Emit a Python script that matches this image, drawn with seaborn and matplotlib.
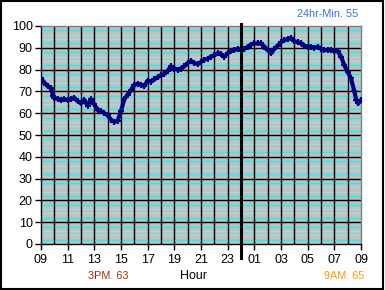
import matplotlib
matplotlib.use("Agg")
import matplotlib.pyplot as plt
import seaborn as sns
import pandas as pd
from matplotlib.patches import Rectangle

# ---- data ----
hours = [0.00, 0.25, 0.50, 0.75, 0.90, 1.00, 1.25, 1.50, 1.75, 2.00, 2.25, 2.50, 2.75,
         3.00, 3.25, 3.50, 3.75, 4.00, 4.25, 4.50, 4.75, 5.00, 5.25, 5.50, 5.75,
         6.00, 6.25, 6.50, 6.75, 7.00, 7.25, 7.50, 7.75, 8.00, 8.25, 8.50, 8.75,
         9.00, 9.25, 9.50, 9.75, 10.00, 10.25, 10.50, 10.75, 11.00, 11.25, 11.50, 11.75,
         12.00, 12.25, 12.50, 12.75, 13.00, 13.25, 13.50, 13.75, 14.00, 14.25, 14.50, 14.75,
         15.00, 15.25, 15.50, 15.75, 16.00, 16.25, 16.50, 16.75, 17.00, 17.25, 17.50, 17.75,
         18.00, 18.25, 18.50, 18.75, 19.00, 19.25, 19.50, 19.75, 20.00, 20.25, 20.50, 20.75,
         21.00, 21.25, 21.50, 21.75, 22.00, 22.25, 22.50, 22.75, 23.00, 23.25, 23.50, 23.65,
         23.80, 24.00]
temps = [76.0, 74.0, 72.5, 71.5, 68.0, 67.0, 66.5, 66.0, 66.5, 66.0, 66.5, 67.0, 65.5,
         64.5, 66.0, 63.5, 66.5, 64.0, 61.5, 61.0, 60.0, 59.0, 57.0, 56.0, 56.5,
         61.0, 66.5, 68.5, 70.5, 73.0, 73.5, 73.0, 72.5, 75.0, 74.5, 75.5, 76.5,
         77.5, 78.0, 79.5, 81.5, 80.5, 80.0, 80.5, 81.5, 83.0, 84.0, 83.0, 82.5,
         83.5, 84.5, 85.0, 86.0, 86.5, 87.5, 87.0, 86.0, 87.5, 88.5, 89.0, 89.5,
         89.0, 89.5, 90.5, 91.5, 92.0, 92.0, 92.0, 90.5, 89.0, 87.5, 89.5, 91.0,
         92.5, 93.5, 94.0, 94.5, 93.0, 92.5, 92.0, 91.0, 90.5, 90.5, 90.0, 90.5,
         89.5, 89.0, 89.0, 89.0, 88.5, 88.5, 86.0, 82.0, 79.0, 76.0, 70.0, 66.0,
         64.5, 66.0]
tick_pos = [0, 2, 4, 6, 8, 10, 12, 14, 16, 18, 20, 22, 24]
tick_labels = ["09", "11", "13", "15", "17", "19", "21", "23", "01", "03", "05", "07", "09"]
y_ticks = [0, 10, 20, 30, 40, 50, 60, 70, 80, 90, 100]
title_right = "24hr-Min. 55"
note_left = "3PM. 63"
x_label = "Hour"
note_right = "9AM. 65"

df = pd.DataFrame({"hour": hours, "temp": temps})

plt.rcParams['font.family'] = ['Liberation Sans', 'DejaVu Sans']

fig = plt.figure(figsize=(3.85, 2.90), dpi=100)
fig.patch.set_facecolor("white")
ax = fig.add_axes([41/385, 46/290, 320/385, 218/290])
ax.set_facecolor("#C0C0C0")

# minor cyan lines
for base in range(0, 100, 10):
    for off, col in [(2, "#00FFFF"), (4, "#9AE0E0"), (6, "#9AE0E0"), (8, "#00FFFF")]:
        ax.axhline(base + off, color=col, lw=0.9, zorder=1)
# black grid
for v in range(10, 100, 10):
    ax.axhline(v, color="black", lw=1.0, zorder=2)
for h in range(1, 24):
    ax.axvline(h, color="black", lw=1.0, zorder=2)

sns.lineplot(data=df, x="hour", y="temp", ax=ax, color="#000080", linewidth=3.0,
             marker="+", markersize=4, markeredgewidth=1.5,
             markeredgecolor="#000080", markerfacecolor="#000080", zorder=4)

# midnight marker
ax.axvline(15, ymin=-0.064, ymax=1.009, color="black", lw=2.2, clip_on=False, zorder=5)

ax.set_xlim(0, 24)
ax.set_ylim(0, 100)
ax.set_xticks(tick_pos)
ax.set_xticklabels(tick_labels)
ax.set_yticks(y_ticks)
ax.tick_params(axis="both", direction="out", length=4, width=1, color="black",
               labelsize=9, pad=2)
ax.tick_params(axis="x", pad=3)
ax.set_xlabel("")
ax.set_ylabel("")
for s in ax.spines.values():
    s.set_color("#808080")
    s.set_linewidth(1)
ax.spines["bottom"].set_color("black")
ax.spines["left"].set_color("black")

fig.text(358/385, 1 - 14/290, title_right, ha="right", va="center", fontsize=7.8, color="#3D6BE0")
fig.text(108/385, 1 - 276/290, note_left, ha="center", va="center", fontsize=7.8, color="#993300")
fig.text(194/385, 1 - 276/290, x_label, ha="center", va="center", fontsize=9, color="black")
fig.text(364/385, 1 - 276/290, note_right, ha="right", va="center", fontsize=7.8, color="#FF9900")

fig.patches.append(Rectangle((0.5/385, 1.5/290), 382.5/385, 288/290, transform=fig.transFigure,
                             fill=False, edgecolor="black", lw=1.5))

fig.savefig("out.png", dpi=100)
